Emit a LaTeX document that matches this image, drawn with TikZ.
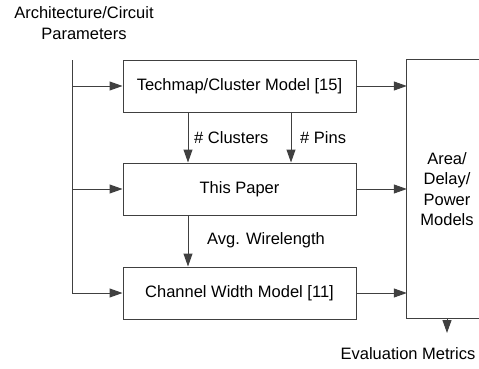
\documentclass[tikz,border=0pt]{standalone}
\usepackage{fontspec}
\setmainfont{Liberation Sans}
\usetikzlibrary{arrows.meta}
\begin{document}
\begin{tikzpicture}[x=1pt,y=1pt,
  font=\fontsize{16.5}{20.5}\selectfont,
  ln/.style={line width=1pt,draw=black!75},
  arr/.style={ln,-{Triangle[length=13pt,width=9pt]}},
  box/.style={ln,minimum width=233pt,minimum height=52pt,inner sep=0pt},
  lbl/.style={anchor=west,inner sep=0pt}]
\useasboundingbox (0,0) rectangle (479,368);
\begin{scope}
\clip (0,0) rectangle (479,368);
\node[box,draw] (tm) at (239.5,282) {Techmap/Cluster Model [15]};
\node[box,draw] (tp) at (239.5,179) {This Paper};
\node[box,draw] (cw) at (239.5,75) {Channel Width Model [11]};
\node[minimum width=80pt,minimum height=258pt,inner sep=0pt,align=center] (ab) at (447,179) {Area/\\Delay/\\Power\\Models};
\draw[ln] (ab.north east) -- (ab.north west) -- (ab.south west) -- (ab.south east);
\node[align=center,inner sep=0pt] (par) at (84,345) {Architecture/Circuit\\Parameters};
\coordinate (top) at (72,308);
\draw[arr] (top) |- (cw.west);
\draw[arr] (top |- tm.west) -- (tm.west);
\draw[arr] (top |- tp.west) -- (tp.west);
\draw[arr] ([xshift=-51.5pt]tm.south) -- ([xshift=-51.5pt]tp.north);
\draw[arr] ([xshift=51.5pt]tm.south) -- ([xshift=51.5pt]tp.north);
\draw[arr] ([xshift=-51.5pt]tp.south) -- ([xshift=-51.5pt]cw.north);
\node[lbl] (lc) at (194,230) {\# Clusters};
\node[lbl] (lp) at (300,230) {\# Pins};
\node[lbl] (lw) at (207,128) {Avg. Wirelength};
\draw[arr] (tm.east) -- (ab.west |- tm.east);
\draw[arr] (tp.east) -- (ab.west |- tp.east);
\draw[arr] (cw.east) -- (ab.west |- cw.east);
\coordinate (ev) at (447,35);
\draw[arr] (ab.south) -- (ev);
\node[inner sep=0pt] (em) at (408,14) {Evaluation Metrics};
\end{scope}
\end{tikzpicture}
\end{document}
